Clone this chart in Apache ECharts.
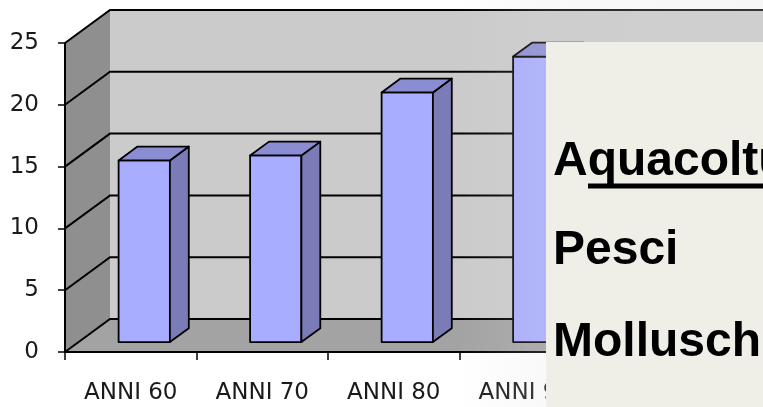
<!DOCTYPE html>
<html>
<head>
<meta charset="utf-8">
<script src="https://cdn.jsdelivr.net/npm/echarts@6/dist/echarts.min.js"></script>
<style>html,body{margin:0;padding:0;background:#fff;}#c{width:763px;height:407px;}</style>
</head>
<body>
<div id="c"></div>
<script>
const categories = ['ANNI 60', 'ANNI 70', 'ANNI 80', 'ANNI 90', ''];
const values = [14.7, 15.1, 20.2, 23.1];
const yTicks = [0, 5, 10, 15, 20, 25];
const boxLines = ['Aquacoltura', 'Pesci', 'Molluschi'];

const DX = 45, DY = -33;          // depth vector of the 3D box
const F0 = 0.30, F1 = 0.72;       // bar depth fractions
const BAR_W = 0.39;               // bar width as share of category

const chart = echarts.init(document.getElementById('c'), null, {renderer: 'canvas'});

function wallsRender(params, api) {
  const cs = params.coordSys;
  const L = cs.x, R = cs.x + cs.width;
  const B = api.coord([0, yTicks[0]])[1];
  const T = api.coord([0, yTicks[yTicks.length - 1]])[1];
  const children = [
    {type: 'polygon', shape: {points: [[L, T], [L + DX, T + DY], [L + DX, B + DY], [L, B]]}, style: {fill: '#8f8f8f'}},
    {type: 'polygon', shape: {points: [[L + DX, T + DY], [R + DX, T + DY], [R + DX, B + DY], [L + DX, B + DY]]}, style: {fill: '#cbcbcb'}},
    {type: 'polygon', shape: {points: [[L, B], [L + DX, B + DY], [R + DX, B + DY], [R, B]]}, style: {fill: '#a3a3a3'}}
  ];
  yTicks.forEach(v => {
    const y = api.coord([0, v])[1];
    children.push({type: 'polyline', shape: {points: [[L, y], [L + DX, y + DY], [R + DX, y + DY]]},
      style: {stroke: '#000', lineWidth: 2, fill: null}});
  });
  return {type: 'group', children};
}

function barRender(params, api) {
  const i = api.value(0), v = api.value(1);
  const base = api.coord([i, 0]);
  const top = api.coord([i, v]);
  const cw = api.size([1, 0])[0];
  const bw = cw * BAR_W;
  const x0 = base[0] + F0 * DX - bw / 2, x1 = x0 + bw;
  const yb = base[1] + F0 * DY, yt = top[1] + F0 * DY;
  const sx = (F1 - F0) * DX, sy = (F1 - F0) * DY;
  const st = {stroke: '#000', lineWidth: 1.8, lineJoin: 'round'};
  return {type: 'group', children: [
    {type: 'polygon', shape: {points: [[x0, yb], [x0, yt], [x1, yt], [x1, yb]]}, style: Object.assign({fill: '#a9adff'}, st)},
    {type: 'polygon', shape: {points: [[x1, yb], [x1, yt], [x1 + sx, yt + sy], [x1 + sx, yb + sy]]}, style: Object.assign({fill: '#7a7bb7'}, st)},
    {type: 'polygon', shape: {points: [[x0, yt], [x1, yt], [x1 + sx, yt + sy], [x0 + sx, yt + sy]]}, style: Object.assign({fill: '#8a8dd2'}, st)}
  ]};
}

const textFont = 'bold 48px "Liberation Sans", Arial, sans-serif';
const textY = [162, 251, 343];

const option = {
  backgroundColor: '#ffffff',
  animation: false,
  grid: {left: 65, right: 40.5, top: 43, bottom: 55, containLabel: false},
  xAxis: {
    type: 'category', data: categories, boundaryGap: true, z: 10,
    axisLine: {show: true, lineStyle: {color: '#000', width: 2}},
    axisTick: {show: true, length: 8, lineStyle: {color: '#000', width: 1.5}},
    axisLabel: {margin: 30, fontFamily: '"DejaVu Sans", Verdana, sans-serif', fontSize: 23, color: '#1a1a1a', interval: 0},
    splitLine: {show: false}
  },
  yAxis: {
    type: 'value', min: 0, max: 25, interval: 5, z: 10,
    axisLine: {show: true, lineStyle: {color: '#000', width: 2}},
    axisTick: {show: true, length: 7, lineStyle: {color: '#000', width: 1.5}},
    axisLabel: {margin: 26, padding: [6, 0, 0, 0], fontFamily: '"DejaVu Sans", Verdana, sans-serif', fontSize: 23, color: '#1a1a1a'},
    splitLine: {show: false}
  },
  series: [
    {type: 'custom', name: 'walls', z: 1, silent: true, data: [[0, 0]], renderItem: wallsRender, clip: false},
    {type: 'custom', name: 'bars', z: 3, data: values.map((v, i) => [i, v]), renderItem: barRender, clip: false}
  ],
  graphic: [
    {type: 'rect', z: 100, silent: true, shape: {x: 455, y: 0, width: 308, height: 407},
      style: {fill: {type: 'linear', x: 0, y: 0, x2: 1, y2: 0, colorStops: [
        {offset: 0, color: 'rgba(220,220,220,0)'},
        {offset: 0.3, color: 'rgba(220,220,220,0.18)'},
        {offset: 1, color: 'rgba(220,220,220,0.25)'}]}}},
    {type: 'rect', z: 101, silent: true, shape: {x: 546, y: 42, width: 230, height: 380}, style: {fill: '#efefe8'}},
    {type: 'text', z: 102, x: 553, y: textY[0], style: {text: boxLines[0], font: textFont, fill: '#000', verticalAlign: 'middle', align: 'left'}},
    {type: 'text', z: 102, x: 553, y: textY[1], style: {text: boxLines[1], font: textFont, fill: '#000', verticalAlign: 'middle', align: 'left'}},
    {type: 'text', z: 102, x: 553, y: textY[2], style: {text: boxLines[2], font: textFont, fill: '#000', verticalAlign: 'middle', align: 'left'}},
    {type: 'line', z: 102, shape: {x1: 588, y1: 186, x2: 770, y2: 186}, style: {stroke: '#000', lineWidth: 5}}
  ]
};
chart.setOption(option);
</script>
</body>
</html>
